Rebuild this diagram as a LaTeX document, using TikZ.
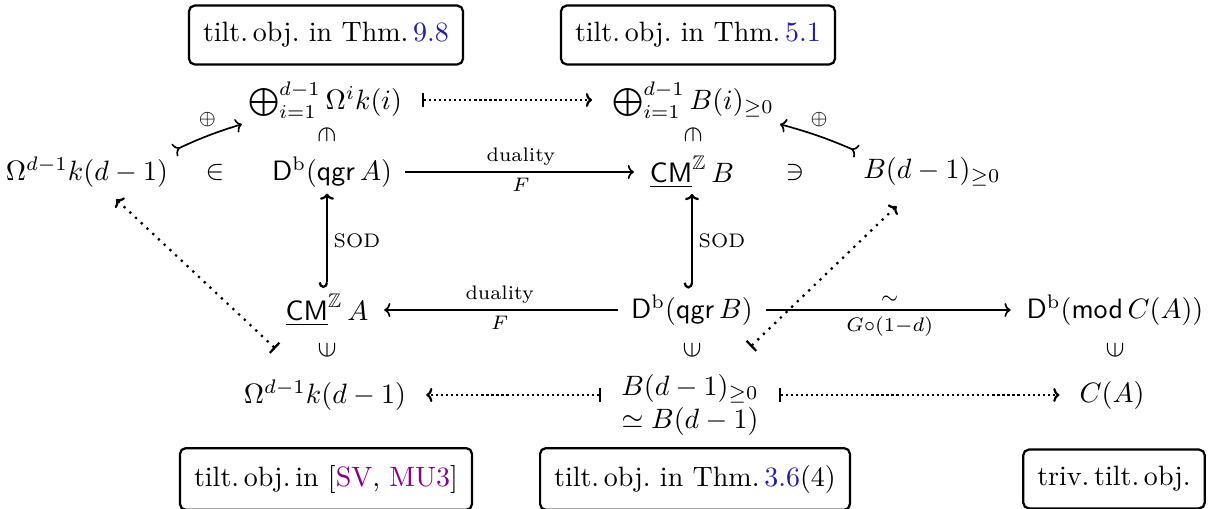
\documentclass[tikz,border=0pt]{standalone}
\usepackage{amsmath,amssymb}
\usepackage{graphicx}
\usepackage{xcolor}
\usepackage{tikz}
\usetikzlibrary{
  arrows.meta,
  calc,
  positioning
}
\definecolor{refblue}{RGB}{30,30,165}
\definecolor{citepurple}{RGB}{135,0,135}
\tikzset{
  obj/.style={inner sep=2pt},
  refbox/.style={draw,thick,rounded corners=2pt,align=center,
    inner xsep=5pt,inner ysep=6pt},
  lab/.style={font=\scriptsize,inner sep=2pt},
  functor/.style={-{To[length=2.2pt,width=5pt]},semithick,
    shorten <=2.5pt,shorten >=3.5pt},
  incl/.style={{Hooks[right,length=2pt,width=6pt]}-{To[length=2.2pt,width=5pt]},thick},
  mono/.style={{To[reversed,length=2.2pt,width=5pt]}-{To[length=2.2pt,width=5pt]},semithick},
  mapflow/.style={{Bar[width=5pt]}-{To[length=2.2pt,width=5pt]},thick,densely dotted,
    shorten <=5pt,shorten >=5pt},
  mapdiag/.style={{Bar[width=5pt]}-{To[length=2.2pt,width=5pt]},thick,dotted}
}
\newcommand{\inup}{\mathrel{\rotatebox[origin=c]{90}{$\in$}}}
\newcommand{\indown}{\mathrel{\rotatebox[origin=c]{-90}{$\in$}}}
\newcommand{\Db}{\mathsf{D}^{\mathrm{b}}}
\newcommand{\sCM}{\underline{\mathsf{CM}}^{\mathbb{Z}}}

\begin{document}
\begin{tikzpicture}[x=0.357pt,y=-0.357pt]
  \useasboundingbox (0,0) rectangle (1213,509);
  % reference boxes
  \node[refbox] (t1) at (326,35) {tilt.\,obj.\ in Thm.\,\textcolor{refblue}{9.8}};
  \node[refbox] (t2) at (698,35) {tilt.\,obj.\ in Thm.\,\textcolor{refblue}{5.1}};
  \node[refbox] (t3) at (326,479) {tilt.\,obj.\,in [\textcolor{citepurple}{SV}, \textcolor{citepurple}{MU3}]};
  \node[refbox] (t4) at (695,479) {tilt.\,obj.\ in Thm.\,\textcolor{refblue}{3.6}(4)};
  \node[refbox] (t5) at (1114,479) {triv.\,tilt.\,obj.};
  % objects
  \node[obj] (sumo) at (325,100) {$\bigoplus_{i=1}^{d-1}\Omega^i k(i)$};
  \node[obj] (sumb) at (693,100) {$\bigoplus_{i=1}^{d-1}B(i)_{\geq 0}$};
  \node[obj] (capa) at (327,135) {$\indown$};
  \node[obj] (capb) at (693,135) {$\indown$};
  \node[obj] (om) at (87,172) {$\Omega^{d-1}k(d-1)$};
  \node[obj] (ina) at (215,172) {$\in$};
  \node[obj] (dqa) at (332,172) {$\Db(\mathsf{qgr}\,A)$};
  \node[obj] (cmb) at (692,172) {$\sCM\,B$};
  \node[obj] (nib) at (795,172) {$\ni$};
  \node[obj] (bd) at (932,172) {$B(d-1)_{\geq 0}$};
  \node[obj] (cma) at (327,310) {$\sCM\,A$};
  \node[obj] (dqb) at (692,310) {$\Db(\mathsf{qgr}\,B)$};
  \node[obj] (dmc) at (1115,310) {$\Db(\mathsf{mod}\,C(A))$};
  \node[obj] (cupa) at (327,350) {$\inup$};
  \node[obj] (cupb) at (692,350) {$\inup$};
  \node[obj] (cupc) at (1115,350) {$\inup$};
  \node[obj] (omb) at (325,395) {$\Omega^{d-1}k(d-1)$};
  \node[obj,align=center] (bb) at (690,405) {$B(d-1)_{\geq 0}$\\$\simeq B(d-1)$};
  \node[obj] (ca) at (1112,395) {$C(A)$};
  % arrows
  \draw[mapflow] (sumo) -- (sumb);
  \draw[mono] (om.north east) to[bend left=4] node[lab,above=1pt]{$\oplus$} (sumo.south west);
  \draw[mono] (bd.north west) to[bend right=4] node[lab,above=1pt]{$\oplus$} (sumb.south east);
  \draw[functor] (dqa) -- node[lab,above]{duality} node[lab,below]{$F$} (cmb);
  \draw[incl] (cma) -- node[lab,right]{SOD} (cma |- dqa.south);
  \draw[incl] (dqb) -- node[lab,right]{SOD} (cmb);
  \draw[functor] (dqb) -- node[lab,above]{duality} node[lab,below]{$F$} (cma);
  \draw[functor] (dqb) -- node[lab,above]{$\sim$} node[lab,below]{$G{\circ}(1{-}d)$} (dmc);
  \draw[mapflow] (bb.west |- omb) -- (omb);
  \draw[mapflow] (bb.east |- ca) -- (ca);
  \draw[mapdiag,shorten <=13pt,shorten >=3pt] (omb) -- (om);
  \draw[mapdiag,shorten <=11pt,shorten >=7pt] (bb) -- (bd);
\end{tikzpicture}
\end{document}
